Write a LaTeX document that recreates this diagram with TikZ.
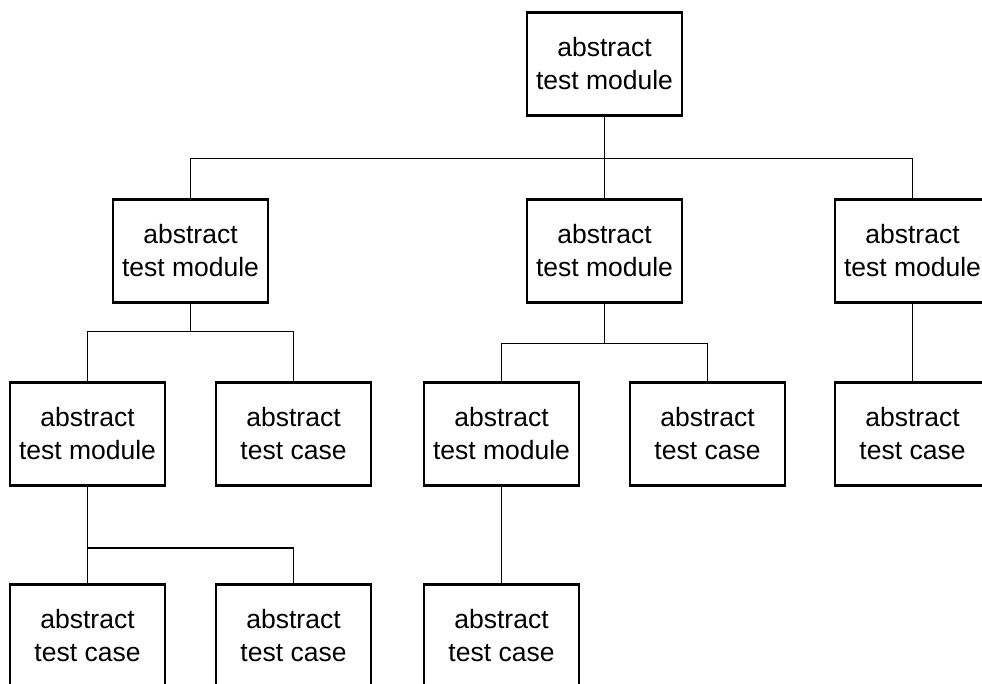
\documentclass[tikz,border=0pt]{standalone}
\usepackage{fontspec}
\setmainfont{Liberation Sans}
\tikzstyle{mb}=[rectangle,draw=black,line width=2.4pt,fill=white,align=center,
  minimum width=155pt,minimum height=103pt,inner sep=0pt,
  font=\fontsize{26.5}{33}\selectfont]
\tikzstyle{cb}=[style=mb]
\tikzstyle{link}=[line width=1.6pt]
\begin{document}
\begin{tikzpicture}[x=1pt,y=-1pt]
            \useasboundingbox (0,0) rectangle (982,684);
            \clip (0,0) rectangle (982,684);
            \node [style=mb] (0) at (604.5, 64) {abstract\\test module};
            \node [style=mb] (1) at (190.5, 251) {abstract\\test module};
            \node [style=mb] (2) at (604.5, 251) {abstract\\test module};
            \node [style=mb] (3) at (912.5, 251) {abstract\\test module};
            \node [style=mb] (4) at (87.5, 434) {abstract\\test module};
            \node [style=cb] (5) at (293.5, 434) {abstract\\test case};
            \node [style=mb] (6) at (501.5, 434) {abstract\\test module};
            \node [style=cb] (7) at (707.5, 434) {abstract\\test case};
            \node [style=cb] (8) at (912.5, 434) {abstract\\test case};
            \node [style=cb] (9) at (87.5, 636) {abstract\\test case};
            \node [style=cb] (10) at (293.5, 636) {abstract\\test case};
            \node [style=cb] (11) at (501.5, 636) {abstract\\test case};
            \draw [style=link] (0.south) -- ++(0,42) -| (1.north);
            \draw [style=link] (0.south) -- (2.north);
            \draw [style=link] (0.south) -- ++(0,42) -| (3.north);
            \draw [style=link] (1.south) -- ++(0,28) -| (4.north);
            \draw [style=link] (1.south) -- ++(0,28) -| (5.north);
            \draw [style=link] (2.south) -- ++(0,40) -| (6.north);
            \draw [style=link] (2.south) -- ++(0,40) -| (7.north);
            \draw [style=link] (3.south) -- (8.north);
            \draw [style=link] (4.south) |- ++(0,61) -| (10.north);
            \draw [style=link] (4.south) -- (9.north);
            \draw [style=link] (6.south) -- (11.north);
    \end{tikzpicture}
\end{document}
